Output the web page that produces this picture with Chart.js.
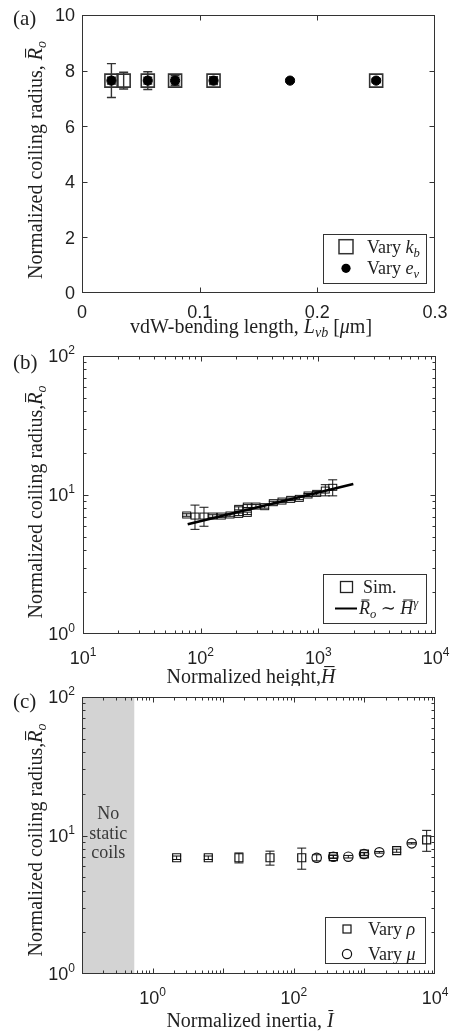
<!DOCTYPE html>
<html><head><meta charset="utf-8">
<script src="https://cdn.jsdelivr.net/npm/chart.js@4.4.1/dist/chart.umd.min.js"></script>
<style>
html,body{margin:0;padding:0;background:#fff;}
body{width:451px;height:1031px;position:relative;overflow:hidden;}
canvas{position:absolute;left:0;display:block;}
</style></head>
<body>
<canvas id="ca" width="451" height="338" style="top:0px;width:451px;height:338px"></canvas>
<canvas id="cb" width="451" height="348" style="top:338px;width:451px;height:348px"></canvas>
<canvas id="cc" width="451" height="345" style="top:686px;width:451px;height:345px"></canvas>
<script>
// ---------- Panel (a) data ----------
const aXTicks = [0, 0.1, 0.2, 0.3];
const aYTicks = [0, 2, 4, 6, 8, 10];
const aKbX = [0.025, 0.0354, 0.0559, 0.0791, 0.1118, 0.25];
const aKbY = [7.64, 7.64, 7.64, 7.64, 7.64, 7.64];
const aKbErr = [0.12, 0.30, 0.32, 0.12, 0.10, 0.08];
const aEvX = [0.025, 0.0559, 0.0791, 0.1118, 0.1768, 0.25];
const aEvY = [7.64, 7.64, 7.64, 7.64, 7.64, 7.64];
const aEvErr = [0.61, 0.12, 0.18, 0.14, 0.05, 0.05];

// ---------- Panel (b) data ----------
const bXTickExp = [1, 2, 3, 4];
const bYTickExp = [0, 1, 2];
const bSimX = [76.0, 89.5, 106.7, 126.5, 149.7, 177.4, 210.4, 210.4, 249, 249, 295, 350, 414, 491, 582, 689, 817, 968, 1146, 1325];
const bSimY = [7.18, 7.06, 7.06, 7.06, 7.06, 7.18, 7.26, 8.02, 7.38, 8.33, 8.33, 8.24, 8.81, 9.05, 9.31, 9.46, 10.0, 10.28, 10.86, 11.36];
const bSimErr = [0.15, 1.4, 1.1, 0.15, 0.15, 0.15, 0.15, 0.2, 0.15, 0.2, 0.2, 0.2, 0.2, 0.2, 0.2, 0.2, 0.25, 0.3, 1.0, 1.5];
const bFitX = [77.6, 1982];
const bFitY = [6.15, 12.0];

// ---------- Panel (c) data ----------
const cXTickExp = [0, 2, 4];
const cYTickExp = [0, 1, 2];
const cRhoX = [2.19, 6.15, 16.7, 46, 129.5, 363, 1000, 2865, 7620];
const cRhoY = [6.91, 6.91, 6.91, 6.91, 6.91, 7.03, 7.35, 7.77, 9.29];
const cRhoErr = [0.2, 0.2, 0.57, 0.8, 1.2, 0.2, 0.2, 0.2, 1.6];
const cMuX = [211, 363, 592, 987, 1627, 4677];
const cMuY = [6.91, 7.03, 7.03, 7.35, 7.56, 8.78];
const cMuErr = [0.35, 0.15, 0.15, 0.15, 0.1, 0.1];
const cNoCoil = [0.1, 0.55];
const cNoCoilText = ['No', 'static', 'coils'];

// ---------- helpers ----------
const SERIF = '"Liberation Serif","DejaVu Serif",serif';
const SANS = '"Liberation Sans","DejaVu Sans",sans-serif';
const INK = '#1f1f1f';
const AXC = '#333333';
const pts = (xs, ys) => xs.map((x, i) => ({x: x, y: ys[i]}));
function fnt(size, it, fam) { return (it ? 'italic ' : '') + size + 'px ' + (fam || SERIF); }

function richWidth(ctx, segs, size) {
  let w = 0;
  for (const s of segs) {
    const sz = (s.sub || s.sup) ? size * 0.7 : size;
    ctx.font = fnt(sz, s.it);
    w += ctx.measureText(s.t).width;
  }
  return w;
}
function drawRich(ctx, segs, x, ymid, size, align) {
  ctx.save();
  ctx.textBaseline = 'alphabetic';
  ctx.textAlign = 'left';
  const w = richWidth(ctx, segs, size);
  let cx = align === 'center' ? x - w / 2 : (align === 'right' ? x - w : x);
  const base = ymid + size * 0.33;
  for (const s of segs) {
    const sz = (s.sub || s.sup) ? size * 0.7 : size;
    ctx.font = fnt(sz, s.it);
    const dy = s.sub ? size * 0.22 : (s.sup ? -size * 0.4 : 0);
    ctx.fillText(s.t, cx, base + dy);
    const sw = ctx.measureText(s.t).width;
    if (s.bar) ctx.fillRect(cx + sw * 0.22, base + dy - sz * 0.83, sw * 0.72, Math.max(1, sz * 0.055));
    cx += sw;
  }
  ctx.restore();
}
function drawSans(ctx, text, x, ymid, align) {
  ctx.font = '18px ' + SANS;
  ctx.textAlign = align; ctx.textBaseline = 'alphabetic';
  ctx.fillText(text, x, ymid + 0.358 * 18);
}
function drawPow(ctx, e, x, ymid, align) {
  ctx.textBaseline = 'alphabetic'; ctx.textAlign = 'left';
  ctx.font = '18px ' + SANS; const wb = ctx.measureText('10').width;
  ctx.font = '12px ' + SANS; const we = ctx.measureText(String(e)).width;
  const tot = wb + we;
  const sx = align === 'center' ? x - tot / 2 : x - tot;
  ctx.font = '18px ' + SANS; ctx.fillText('10', sx, ymid + 0.358 * 18);
  ctx.font = '12px ' + SANS; ctx.fillText(String(e), sx + wb, ymid - 6 + 0.358 * 12);
}
function logMarks(e0, e1) {
  const m = [];
  for (let e = e0; e <= e1; e++) {
    m.push({v: Math.pow(10, e), major: true});
    if (e < e1) for (let k = 2; k <= 9; k++) m.push({v: k * Math.pow(10, e), major: false});
  }
  return m;
}
function drawErrors(chart, list) {
  const ctx = chart.ctx, X = chart.scales.x, Y = chart.scales.y;
  ctx.save();
  for (const E of list) {
    ctx.strokeStyle = E.color; ctx.lineWidth = E.lw;
    ctx.beginPath();
    E.xs.forEach((xv, i) => {
      const e = E.es[i]; if (!e) return;
      const px = X.getPixelForValue(xv);
      const y1 = Y.getPixelForValue(E.ys[i] - e), y2 = Y.getPixelForValue(E.ys[i] + e);
      ctx.moveTo(px, y1); ctx.lineTo(px, y2);
      ctx.moveTo(px - E.cap, y1); ctx.lineTo(px + E.cap, y1);
      ctx.moveTo(px - E.cap, y2); ctx.lineTo(px + E.cap, y2);
    });
    ctx.stroke();
  }
  ctx.restore();
}
function drawLegend(ctx, G, o) {
  const [x0, y0, x1, y1] = G.box;
  ctx.save();
  ctx.fillStyle = '#fff'; ctx.fillRect(x0, y0 - o, x1 - x0, y1 - y0);
  ctx.strokeStyle = AXC; ctx.lineWidth = 1;
  ctx.strokeRect(x0 + 0.5, y0 - o + 0.5, x1 - x0 - 1, y1 - y0 - 1);
  G.rows.forEach(r => {
    const y = r.y - o, m = r.m;
    ctx.strokeStyle = m.color || '#000'; ctx.fillStyle = m.color || '#000'; ctx.lineWidth = m.lw || 1;
    if (m.type === 'rect') ctx.strokeRect(m.x - m.w / 2, y - m.h / 2, m.w, m.h);
    else if (m.type === 'dot') { ctx.beginPath(); ctx.arc(m.x, y, m.r, 0, 2 * Math.PI); ctx.fill(); }
    else if (m.type === 'circle') { ctx.beginPath(); ctx.arc(m.x, y, m.r, 0, 2 * Math.PI); ctx.stroke(); }
    else if (m.type === 'line') { ctx.beginPath(); ctx.moveTo(m.x0, y); ctx.lineTo(m.x1, y); ctx.stroke(); }
    ctx.fillStyle = INK;
    drawRich(ctx, r.segs, r.tx, y, G.size, 'left');
  });
  ctx.restore();
}
function framePlugin(S) {
  return {
    id: 'frame',
    beforeDatasetsDraw(chart) {
      const ctx = chart.ctx, A = chart.chartArea, X = chart.scales.x;
      if (S.shade) {
        const x0 = X.getPixelForValue(S.shade.range[0]), x1 = X.getPixelForValue(S.shade.range[1]);
        ctx.save();
        ctx.fillStyle = S.shade.color;
        ctx.fillRect(x0, A.top, x1 - x0, A.bottom - A.top);
        ctx.fillStyle = S.shade.textColor;
        const cx = (x0 + x1) / 2;
        S.shade.lines.forEach((t, i) => drawRich(ctx, [{t: t}], cx, S.shade.ys[i] - S.off, S.shade.size, 'center'));
        ctx.restore();
      }
      drawErrors(chart, S.errors);
    },
    afterDraw(chart) {
      const ctx = chart.ctx, A = chart.chartArea, X = chart.scales.x, Y = chart.scales.y, o = S.off;
      ctx.save();
      ctx.strokeStyle = AXC; ctx.lineWidth = 1;
      const L = Math.round(A.left) + 0.5, R = Math.round(A.right) - 0.5, T = Math.round(A.top) + 0.5, B = Math.round(A.bottom) - 0.5;
      const cl = (p, a, b) => Math.min(Math.max(p, a), b);
      ctx.beginPath();
      S.xMarks.forEach(m => {
        const p = cl(Math.round(X.getPixelForValue(m.v)) + 0.5, L, R), len = m.major ? 5 : 3;
        ctx.moveTo(p, B); ctx.lineTo(p, B - len); ctx.moveTo(p, T); ctx.lineTo(p, T + len);
      });
      S.yMarks.forEach(m => {
        const p = cl(Math.round(Y.getPixelForValue(m.v)) + 0.5, T, B), len = m.major ? 5 : 3;
        ctx.moveTo(L, p); ctx.lineTo(L + len, p); ctx.moveTo(R, p); ctx.lineTo(R - len, p);
      });
      ctx.stroke();
      ctx.strokeRect(L, T, R - L, B - T);
      ctx.fillStyle = INK;
      if (S.xLab.pow) S.xLab.vals.forEach(e => drawPow(ctx, e, X.getPixelForValue(Math.pow(10, e)), S.xLab.y - o, 'center'));
      else S.xLab.vals.forEach(v => drawSans(ctx, String(v), X.getPixelForValue(v), S.xLab.y - o, 'center'));
      if (S.yLab.pow) S.yLab.vals.forEach(e => drawPow(ctx, e, S.yLab.x, Y.getPixelForValue(Math.pow(10, e)), 'right'));
      else S.yLab.vals.forEach(v => drawSans(ctx, String(v), S.yLab.x, Y.getPixelForValue(v), 'right'));
      drawRich(ctx, S.xTitle.segs, S.xTitle.x, S.xTitle.y - o, S.titleSize, 'center');
      ctx.save();
      ctx.translate(S.yTitle.x, S.yTitle.y - o); ctx.rotate(-Math.PI / 2);
      drawRich(ctx, S.yTitle.segs, 0, 0, S.titleSize, 'center');
      ctx.restore();
      drawRich(ctx, [{t: S.panel.t}], S.panel.x, S.panel.y - o, S.panel.size, 'left');
      drawLegend(ctx, S.legend, o);
      ctx.restore();
    }
  };
}
function makeChart(id, S) {
  const cv = document.getElementById(id);
  const H = cv.height;
  return new Chart(cv, {
    type: 'scatter',
    data: {datasets: S.datasets},
    options: {
      responsive: false, animation: false, events: [],
      layout: {padding: {left: 0, right: 451 - S.area.right, top: S.area.top - S.off, bottom: 0}},
      plugins: {legend: {display: false}, tooltip: {enabled: false}},
      scales: {
        x: {type: S.xType, min: S.xMin, max: S.xMax, grid: {display: false}, border: {display: false}, ticks: {display: false},
            afterFit: s => { s.height = H - (S.area.bottom - S.off); }},
        y: {type: S.yType, min: S.yMin, max: S.yMax, grid: {display: false}, border: {display: false}, ticks: {display: false},
            afterFit: s => { s.width = S.area.left; }}
      }
    },
    plugins: [framePlugin(S)]
  });
}
function rectStyle(w, h, lw, color) {
  const c = document.createElement('canvas'); c.width = w + 2; c.height = h + 2;
  const g = c.getContext('2d'); g.strokeStyle = color; g.lineWidth = lw;
  g.strokeRect(1.5, 1.5, w - 1, h - 1);
  return c;
}
const R_O = (sep) => [{t: 'Normalized coiling radius,' + sep}, {t: 'R', it: 1, bar: 1}, {t: 'o', it: 1, sub: 1}];

// ---------- Panel (a) ----------
makeChart('ca', {
  off: 0, area: {left: 82, right: 435, top: 15, bottom: 293},
  xType: 'linear', xMin: 0, xMax: 0.3, yType: 'linear', yMin: 0, yMax: 10,
  xMarks: aXTicks.map(v => ({v: v, major: true})), yMarks: aYTicks.map(v => ({v: v, major: true})),
  xLab: {pow: false, vals: aXTicks, y: 311.5}, yLab: {pow: false, vals: aYTicks, x: 75},
  titleSize: 20,
  xTitle: {segs: [{t: 'vdW-bending length, '}, {t: 'L', it: 1}, {t: 'vb', it: 1, sub: 1}, {t: ' ['}, {t: 'μ', it: 1}, {t: 'm]'}], x: 251, y: 326},
  yTitle: {segs: R_O(' '), x: 35, y: 160},
  panel: {t: '(a)', x: 13, y: 18, size: 21},
  legend: {box: [323, 234, 427, 284], size: 18, rows: [
    {y: 246.7, m: {type: 'rect', x: 346, w: 14, h: 14, lw: 1.5, color: '#333'}, tx: 367, segs: [{t: 'Vary '}, {t: 'k', it: 1}, {t: 'b', it: 1, sub: 1}]},
    {y: 268.3, m: {type: 'dot', x: 346, r: 4.6, color: '#000'}, tx: 367, segs: [{t: 'Vary '}, {t: 'e', it: 1}, {t: 'v', it: 1, sub: 1}]}
  ]},
  errors: [
    {xs: aKbX, ys: aKbY, es: aKbErr, cap: 4.5, lw: 1.4, color: '#333'},
    {xs: aEvX, ys: aEvY, es: aEvErr, cap: 4.5, lw: 1.4, color: '#333'}
  ],
  datasets: [
    {label: 'Vary e_v', data: pts(aEvX, aEvY), pointStyle: 'circle', pointRadius: 4.6, backgroundColor: '#000', borderColor: '#000', borderWidth: 1},
    {label: 'Vary k_b', data: pts(aKbX, aKbY), pointStyle: 'rect', pointRadius: 9.2, backgroundColor: 'rgba(0,0,0,0)', borderColor: '#333', borderWidth: 1.6}
  ]
});

// ---------- Panel (b) ----------
makeChart('cb', {
  off: 338, area: {left: 83, right: 436, top: 356, bottom: 634},
  xType: 'logarithmic', xMin: 10, xMax: 10000, yType: 'logarithmic', yMin: 1, yMax: 100,
  xMarks: logMarks(1, 4), yMarks: logMarks(0, 2),
  xLab: {pow: true, vals: bXTickExp, y: 658}, yLab: {pow: true, vals: bYTickExp, x: 75},
  titleSize: 20,
  xTitle: {segs: [{t: 'Normalized height,'}, {t: 'H', it: 1, bar: 1}], x: 251, y: 676},
  yTitle: {segs: R_O(''), x: 35, y: 502},
  panel: {t: '(b)', x: 13, y: 362, size: 21},
  legend: {box: [323, 574, 427, 624], size: 18, rows: [
    {y: 587, m: {type: 'rect', x: 346.5, w: 12, h: 11, lw: 1.3, color: '#222'}, tx: 363, segs: [{t: 'Sim.'}]},
    {y: 608.5, m: {type: 'line', x0: 335, x1: 357, lw: 2, color: '#000'}, tx: 359, segs: [{t: 'R', it: 1, bar: 1}, {t: 'o', it: 1, sub: 1}, {t: ' ∼ '}, {t: 'H', it: 1, bar: 1}, {t: 'γ', it: 1, sup: 1}]}
  ]},
  errors: [{xs: bSimX, ys: bSimY, es: bSimErr, cap: 4.5, lw: 1, color: '#111'}],
  datasets: [
    {label: 'fit', data: pts(bFitX, bFitY), showLine: true, borderColor: '#000', borderWidth: 2.6, pointRadius: 0, fill: false},
    {label: 'Sim.', data: pts(bSimX, bSimY), pointStyle: rectStyle(9, 7, 1, '#111'), pointRadius: 4}
  ]
});

// ---------- Panel (c) ----------
makeChart('cc', {
  off: 686, area: {left: 82, right: 435, top: 697, bottom: 974},
  xType: 'logarithmic', xMin: 0.1, xMax: 10000, yType: 'logarithmic', yMin: 1, yMax: 100,
  xMarks: logMarks(-1, 4), yMarks: logMarks(0, 2),
  xLab: {pow: true, vals: cXTickExp, y: 998}, yLab: {pow: true, vals: cYTickExp, x: 75},
  titleSize: 20,
  xTitle: {segs: [{t: 'Normalized inertia, '}, {t: 'I', it: 1, bar: 1}], x: 250, y: 1020},
  yTitle: {segs: R_O(''), x: 35, y: 840},
  panel: {t: '(c)', x: 13, y: 701.5, size: 21},
  shade: {range: cNoCoil, color: '#d3d3d3', textColor: '#3a3a3a', lines: cNoCoilText, ys: [813, 833, 852], size: 18},
  legend: {box: [325, 917, 426, 964], size: 18, rows: [
    {y: 929, m: {type: 'rect', x: 347, w: 8, h: 8, lw: 1.2, color: '#111'}, tx: 368, segs: [{t: 'Vary '}, {t: 'ρ', it: 1}]},
    {y: 954, m: {type: 'circle', x: 347, r: 4.6, lw: 1.2, color: '#111'}, tx: 368, segs: [{t: 'Vary '}, {t: 'μ', it: 1}]}
  ]},
  errors: [
    {xs: cRhoX, ys: cRhoY, es: cRhoErr, cap: 4.5, lw: 1, color: '#111'},
    {xs: cMuX, ys: cMuY, es: cMuErr, cap: 4.5, lw: 1, color: '#111'}
  ],
  datasets: [
    {label: 'Vary ρ', data: pts(cRhoX, cRhoY), pointStyle: 'rect', pointRadius: 5.66, backgroundColor: 'rgba(0,0,0,0)', borderColor: '#111', borderWidth: 1.2},
    {label: 'Vary μ', data: pts(cMuX, cMuY), pointStyle: 'circle', pointRadius: 4.7, backgroundColor: 'rgba(0,0,0,0)', borderColor: '#111', borderWidth: 1.2}
  ]
});
</script>
</body></html>
